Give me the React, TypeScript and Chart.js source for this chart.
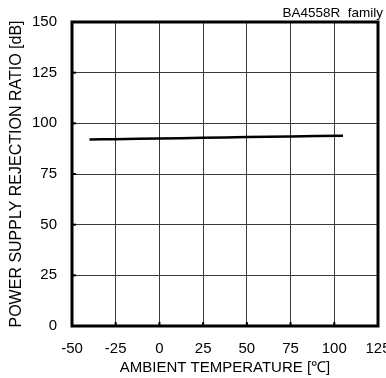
import React, { useEffect, useRef } from "react";
import { Chart, registerables } from "chart.js";

Chart.register(...registerables);

const temperatures = [-40, -25, 0, 25, 50, 75, 105];
const psrr = [92.0, 92.2, 92.5, 92.9, 93.2, 93.5, 93.9];
const xTicks = [-50, -25, 0, 25, 50, 75, 100, 125];
const yTicks = [0, 25, 50, 75, 100, 125, 150];
const noteText = "BA4558R  family";
const xTitle = "AMBIENT TEMPERATURE [\u2103]";
const yTitle = "POWER SUPPLY REJECTION RATIO [dB]";

const FONT = "'Liberation Sans', Arial, sans-serif";

const framePlugin = {
  id: "frame",
  afterDatasetsDraw(chart: any) {
    const { ctx, chartArea, scales } = chart;
    ctx.save();
    ctx.strokeStyle = "#000";
    ctx.lineWidth = 2;
    for (const v of yTicks) {
      const y = scales.y.getPixelForValue(v);
      ctx.beginPath();
      ctx.moveTo(chartArea.left, y);
      ctx.lineTo(chartArea.left + 4, y);
      ctx.stroke();
    }
    for (const v of xTicks) {
      const x = scales.x.getPixelForValue(v);
      ctx.beginPath();
      ctx.moveTo(x, chartArea.bottom);
      ctx.lineTo(x, chartArea.bottom - 4);
      ctx.stroke();
    }
    ctx.lineWidth = 3;
    ctx.strokeRect(
      chartArea.left,
      chartArea.top,
      chartArea.right - chartArea.left,
      chartArea.bottom - chartArea.top
    );
    ctx.fillStyle = "#000";
    ctx.font = "13.5px " + FONT;
    ctx.textAlign = "right";
    ctx.textBaseline = "middle";
    ctx.fillText(noteText, 383, 13);
    ctx.restore();
  },
};

export default function App() {
  const ref = useRef<HTMLCanvasElement>(null);
  useEffect(() => {
    if (!ref.current) return;
    const chart = new Chart(ref.current, {
      type: "scatter",
      data: {
        datasets: [
          {
            data: temperatures.map((t, i) => ({ x: t, y: psrr[i] })),
            showLine: true,
            borderColor: "#000",
            borderWidth: 2.5,
            pointRadius: 0,
            tension: 0.3,
          },
        ],
      },
      options: {
        responsive: false,
        animation: false,
        devicePixelRatio: 1,
        layout: { padding: { top: 22, right: 8, left: 0, bottom: 0 } },
        plugins: { legend: { display: false }, tooltip: { enabled: false } },
        scales: {
          x: {
            type: "linear",
            min: -50,
            max: 125,
            afterBuildTicks: (s: any) => {
              s.ticks = xTicks.map((v) => ({ value: v }));
            },
            afterFit: (s: any) => {
              s.height = 52;
              s.paddingLeft = 0;
              s.paddingRight = 0;
            },
            grid: { color: "#3a3a3a", lineWidth: 1, drawTicks: false },
            border: { display: false },
            ticks: {
              color: "#000",
              font: { family: FONT, size: 15 },
              padding: 14,
              maxRotation: 0,
              autoSkip: false,
            },
            title: {
              display: true,
              text: xTitle,
              color: "#000",
              font: { family: FONT, size: 15 },
              padding: { top: 0, bottom: 1 },
            },
          },
          y: {
            type: "linear",
            min: 0,
            max: 150,
            afterBuildTicks: (s: any) => {
              s.ticks = yTicks.map((v) => ({ value: v }));
            },
            afterFit: (s: any) => {
              s.width = 72;
              s.paddingTop = 0;
              s.paddingBottom = 0;
            },
            grid: { color: "#3a3a3a", lineWidth: 1, drawTicks: false },
            border: { display: false },
            ticks: {
              color: "#000",
              font: { family: FONT, size: 15 },
              padding: 15,
              autoSkip: false,
            },
            title: {
              display: true,
              text: yTitle,
              color: "#000",
              font: { family: FONT, size: 16 },
              padding: { top: 7, bottom: 0 },
            },
          },
        },
      },
      plugins: [framePlugin],
    } as any);
    return () => chart.destroy();
  }, []);
  return (
    <div style={{ position: "fixed", left: 0, top: 0, width: 386, height: 378, background: "#fff" }}>
      <canvas ref={ref} width={386} height={378} style={{ display: "block" }} />
    </div>
  );
}
